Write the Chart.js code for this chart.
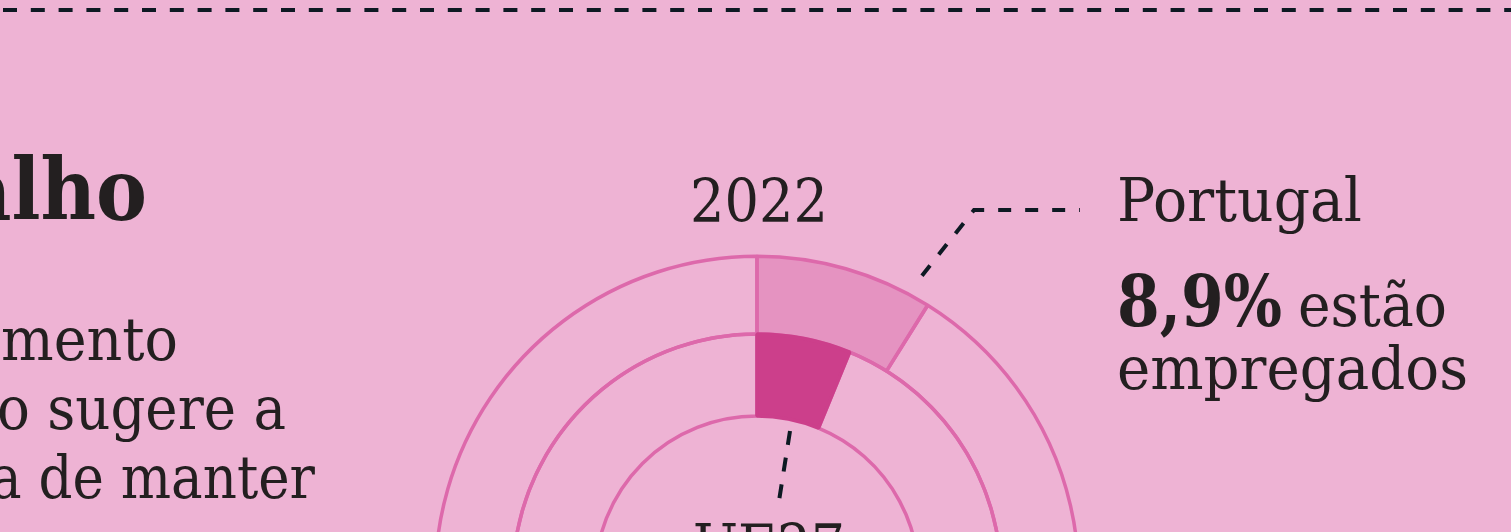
<!DOCTYPE html>
<html>
<head>
<meta charset="utf-8">
<script src="https://cdn.jsdelivr.net/npm/chart.js@4"></script>
<style>
  html, body { margin: 0; padding: 0; }
  body { width: 1511px; height: 532px; overflow: hidden; background: #eeb3d4; position: relative; }
  #wrap { position: absolute; left: 407px; top: 228px; width: 700px; height: 700px; }
  #overlay { position: absolute; left: 0; top: 0; }
  text { fill: #231f20; font-family: "DejaVu Serif", serif; }
</style>
</head>
<body>
<div id="wrap"><canvas id="canvas" width="700" height="700"></canvas></div>

<svg id="overlay" width="1511" height="532">
  <!-- separator and leader lines -->
  <line x1="3" y1="10" x2="1511" y2="10" stroke="#0d1923" stroke-width="4" stroke-dasharray="14 13.8"/>
  <polyline points="917,282 974,210 1080,210" fill="none" stroke="#0d1923" stroke-width="4" stroke-dasharray="13 14" stroke-dashoffset="-8"/>
  <line x1="790" y1="431" x2="779" y2="501" stroke="#0d1923" stroke-width="4" stroke-dasharray="14 13"/>

  <!-- left intro text (cut off by the crop) -->
  <text x="-38" y="220" font-size="86" font-weight="bold" textLength="185" lengthAdjust="spacingAndGlyphs">alho</text>
  <text x="1" y="360" font-size="60" textLength="177" lengthAdjust="spacingAndGlyphs">mento</text>
  <text x="-3" y="429" font-size="60" textLength="289" lengthAdjust="spacingAndGlyphs">o sugere a</text>
  <text x="-10" y="498" font-size="60" textLength="325" lengthAdjust="spacingAndGlyphs">a de manter</text>

  <!-- chart labels -->
  <text id="year" x="690" y="222" font-size="60" textLength="138" lengthAdjust="spacingAndGlyphs"></text>
  <text id="ptName" x="1117" y="221" font-size="60" textLength="245" lengthAdjust="spacingAndGlyphs"></text>
  <text id="ptValue" x="1117" y="326" font-size="71" font-weight="bold" textLength="165" lengthAdjust="spacingAndGlyphs"></text>
  <text x="1298" y="326" font-size="60" textLength="149" lengthAdjust="spacingAndGlyphs">estão</text>
  <text x="1117" y="389" font-size="60" textLength="351" lengthAdjust="spacingAndGlyphs">empregados</text>
  <text id="ueName" x="693" y="567" font-size="60" textLength="152" lengthAdjust="spacingAndGlyphs"></text>
</svg>

<script>
// values
var yearLabel = '2022';
var ringLabels = ['Portugal', 'UE27'];
var ringShares = [8.9, 6.2];     // % employed
var ringFills = ['#e593c1', '#cc3f8b'];

var strokePink = '#dd69ab';

document.getElementById('year').textContent = yearLabel;
document.getElementById('ptName').textContent = ringLabels[0];
document.getElementById('ptValue').textContent = String(ringShares[0]).replace('.', ',') + '%';
document.getElementById('ueName').textContent = ringLabels[1];

var ctx = document.getElementById('canvas').getContext('2d');

var chart = new Chart(ctx, {
  type: 'doughnut',
  data: {
    labels: ['share', 'rest'],
    datasets: [{
      // outer ring: Portugal
      label: ringLabels[0],
      data: [ringShares[0], 100 - ringShares[0]],
      backgroundColor: [ringFills[0], 'rgba(0,0,0,0)'],
      borderColor: strokePink,
      borderWidth: 3.5,
      weight: 78.5,
      order: 1
    }, {
      // inner ring: UE27, slice drawn last so it sits on top of the outlines
      label: ringLabels[1],
      data: [100 - ringShares[1], ringShares[1]],
      backgroundColor: ['rgba(0,0,0,0)', ringFills[1]],
      borderColor: [strokePink, ringFills[1]],
      borderWidth: 3.5,
      rotation: ringShares[1] * 3.6,
      weight: 83,
      order: 0
    }]
  },
  options: {
    responsive: false,
    devicePixelRatio: 1,
    animation: false,
    cutout: 162,
    layout: { padding: 26.5 },
    plugins: {
      legend: { display: false },
      tooltip: { enabled: false }
    }
  }
});
</script>
</body>
</html>
